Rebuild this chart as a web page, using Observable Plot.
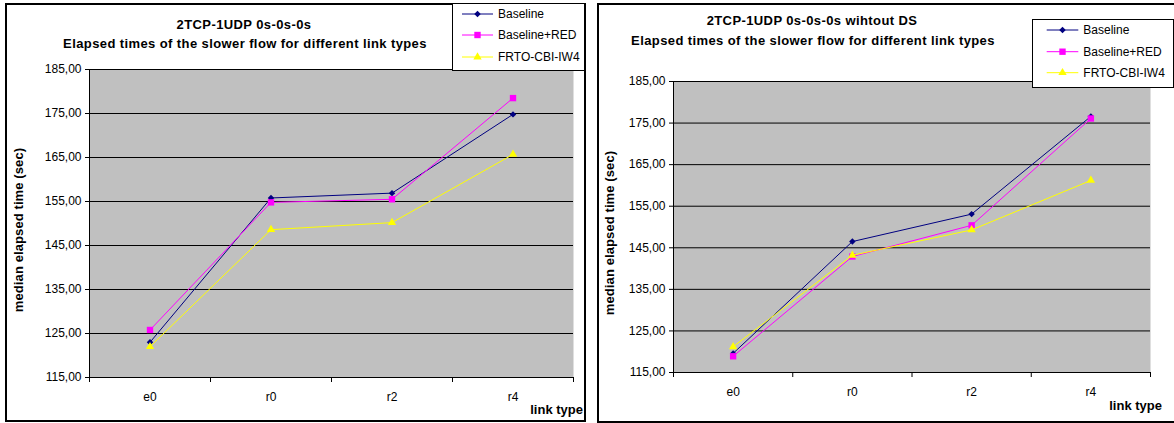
<!DOCTYPE html>
<html>
<head>
<meta charset="utf-8">
<script src="https://cdn.jsdelivr.net/npm/d3@7"></script>
<script src="https://cdn.jsdelivr.net/npm/@observablehq/plot@0.6"></script>
<style>
  body { margin: 0; background: #fff; font-family: "Liberation Sans", Arial, sans-serif; }
  #wrap { position: relative; width: 1174px; height: 423px; overflow: hidden; background: #fff; }
  .frame { position: absolute; border: 2px solid #000; box-sizing: border-box; }
  .chart { position: absolute; top: 0; }
  .title { position: absolute; font-weight: bold; font-size: 13px; letter-spacing: 0.4px; white-space: nowrap; transform: translate(-50%, -50%); }
  .ylab { position: absolute; font-weight: bold; font-size: 13px; letter-spacing: 0.1px; white-space: nowrap; transform: translate(-50%, -50%) rotate(-90deg); }
  .xlab { position: absolute; font-weight: bold; font-size: 13px; white-space: nowrap; transform: translate(-100%, -50%); }
  .legend { position: absolute; }
</style>
</head>
<body>
<div id="wrap"></div>
<script>
// Link types on the x axis
const categories = ["e0", "r0", "r2", "r4"];
// Y axis ticks (seconds)
const yTicks = [115, 125, 135, 145, 155, 165, 175, 185];
// Series names, colours and marker symbols
const seriesNames = ["Baseline", "Baseline+RED", "FRTO-CBI-IW4"];
const seriesColors = ["#000080", "#ff00ff", "#ffff00"];
const seriesSymbols = ["diamond2", "square", "triangle"];
const seriesRadius = [2.9, 3.6, 3.1];

// Median elapsed time of the slower flow, 2TCP-1UDP 0s-0s-0s
const dsBaseline = [123.0, 155.8, 156.9, 174.8];
const dsRed = [125.8, 154.8, 155.5, 178.5];
const dsFrto = [122.0, 148.6, 150.2, 165.7];

// Same scenario without DS
const noDsBaseline = [119.6, 146.5, 153.1, 176.6];
const noDsRed = [118.9, 142.9, 150.4, 176.1];
const noDsFrto = [121.2, 143.2, 149.3, 161.2];

const wrap = document.getElementById("wrap");
const fmt = d => d.toFixed(2).replace(".", ",");
const symbolTypes = {diamond2: d3.symbolDiamond2, square: d3.symbolSquare, triangle: d3.symbolTriangle};

function addDiv(cls, text, style) {
  const el = document.createElement("div");
  el.className = cls;
  if (text != null) el.textContent = text;
  Object.assign(el.style, style);
  wrap.appendChild(el);
  return el;
}

function drawChart(cfg) {
  addDiv("frame", null, cfg.frame);

  const n = categories.length;
  const bounds = d3.range(n + 1).map(i => i - 0.5);
  const marks = [
    Plot.frame({fill: "#c0c0c0", stroke: null}),
    Plot.gridY(yTicks, {stroke: "#000", strokeOpacity: 1, strokeWidth: 1}),
    Plot.ruleX([bounds[0]], {stroke: "#000"}),
    Plot.ruleY([yTicks[0]], {stroke: "#000"}),
    Plot.axisY(yTicks, {tickFormat: fmt, tickSize: 4, tickPadding: 4, label: null}),
    Plot.axisX(d3.range(n), {tickFormat: i => categories[i], tickSize: 0, tickPadding: cfg.xPad, label: null}),
    Plot.axisX(bounds, {tickFormat: () => "", tickSize: 5, label: null})
  ];
  cfg.values.forEach((vals, k) => {
    const rows = vals.map((v, i) => ({idx: i, cat: categories[i], v}));
    marks.push(Plot.line(rows, {x: "idx", y: "v", stroke: seriesColors[k], strokeWidth: 1}));
    marks.push(Plot.dot(rows, {x: "idx", y: "v", symbol: seriesSymbols[k], r: seriesRadius[k], fill: seriesColors[k], stroke: "none"}));
  });

  const svg = Plot.plot({
    width: cfg.width,
    height: 423,
    marginLeft: cfg.margin[0],
    marginRight: cfg.margin[1],
    marginTop: cfg.margin[2],
    marginBottom: cfg.margin[3],
    x: {type: "linear", domain: [bounds[0], bounds[n]]},
    y: {domain: [yTicks[0], yTicks[yTicks.length - 1]]},
    style: {fontFamily: "'Liberation Sans', Arial, sans-serif", fontSize: "12px", background: "transparent", color: "#000"},
    marks
  });
  svg.classList.add("chart");
  svg.style.left = cfg.left + "px";
  wrap.appendChild(svg);

  cfg.titles.forEach((t, i) => addDiv("title", t, {left: cfg.titlePos[i][0] + "px", top: cfg.titlePos[i][1] + "px"}));
  addDiv("ylab", "median elapsed time (sec)", {left: cfg.ylabPos[0] + "px", top: cfg.ylabPos[1] + "px"});
  addDiv("xlab", "link type", {left: cfg.xlabPos[0] + "px", top: cfg.xlabPos[1] + "px"});

  // Legend box with line + marker swatches
  const lg = cfg.legend;
  const leg = d3.create("svg").attr("class", "legend")
    .attr("width", lg.w).attr("height", lg.h)
    .style("left", lg.x + "px").style("top", lg.y + "px");
  leg.append("rect").attr("x", 0.5).attr("y", 0.5).attr("width", lg.w - 1).attr("height", lg.h - 1)
    .attr("fill", "#fff").attr("stroke", "#000");
  seriesNames.forEach((name, k) => {
    const cy = lg.rows[k];
    leg.append("line").attr("x1", lg.lineX[0]).attr("x2", lg.lineX[1]).attr("y1", cy).attr("y2", cy)
      .attr("stroke", seriesColors[k]).attr("stroke-width", 1);
    const size = Math.PI * seriesRadius[k] * seriesRadius[k];
    leg.append("path").attr("d", d3.symbol(symbolTypes[seriesSymbols[k]], size)())
      .attr("transform", `translate(${(lg.lineX[0] + lg.lineX[1]) / 2},${cy})`)
      .attr("fill", seriesColors[k]);
    leg.append("text").attr("x", lg.textX).attr("y", cy).attr("dy", "0.35em")
      .attr("font-family", "'Liberation Sans', Arial, sans-serif").attr("font-size", 12)
      .text(name);
  });
  wrap.appendChild(leg.node());
}

drawChart({
  left: 0, width: 590,
  margin: [89, 17, 69, 46],
  xPad: 15,
  values: [dsBaseline, dsRed, dsFrto],
  frame: {left: "5px", top: "3px", width: "581px", height: "419px"},
  titles: ["2TCP-1UDP 0s-0s-0s", "Elapsed times of the slower flow for different link types"],
  titlePos: [[244, 23.5], [245, 42.5]],
  ylabPos: [18, 229.5],
  xlabPos: [583, 409],
  legend: {x: 452, y: 3, w: 133, h: 68, rows: [11, 32, 54], lineX: [10, 41], textX: 46}
});

drawChart({
  left: 590, width: 584,
  margin: [83, 24, 81, 51],
  xPad: 14.5,
  values: [noDsBaseline, noDsRed, noDsFrto],
  frame: {left: "597px", top: "3px", width: "600px", height: "420px"},
  titles: ["2TCP-1UDP 0s-0s-0s wihtout DS", "Elapsed times of the slower flow for different link types"],
  titlePos: [[812, 20], [813, 40]],
  ylabPos: [608.5, 233],
  xlabPos: [1162, 405],
  legend: {x: 1032, y: 19, w: 142, h: 69, rows: [11, 32.7, 53.7], lineX: [14.7, 46.3], textX: 51.3}
});
</script>
</body>
</html>
